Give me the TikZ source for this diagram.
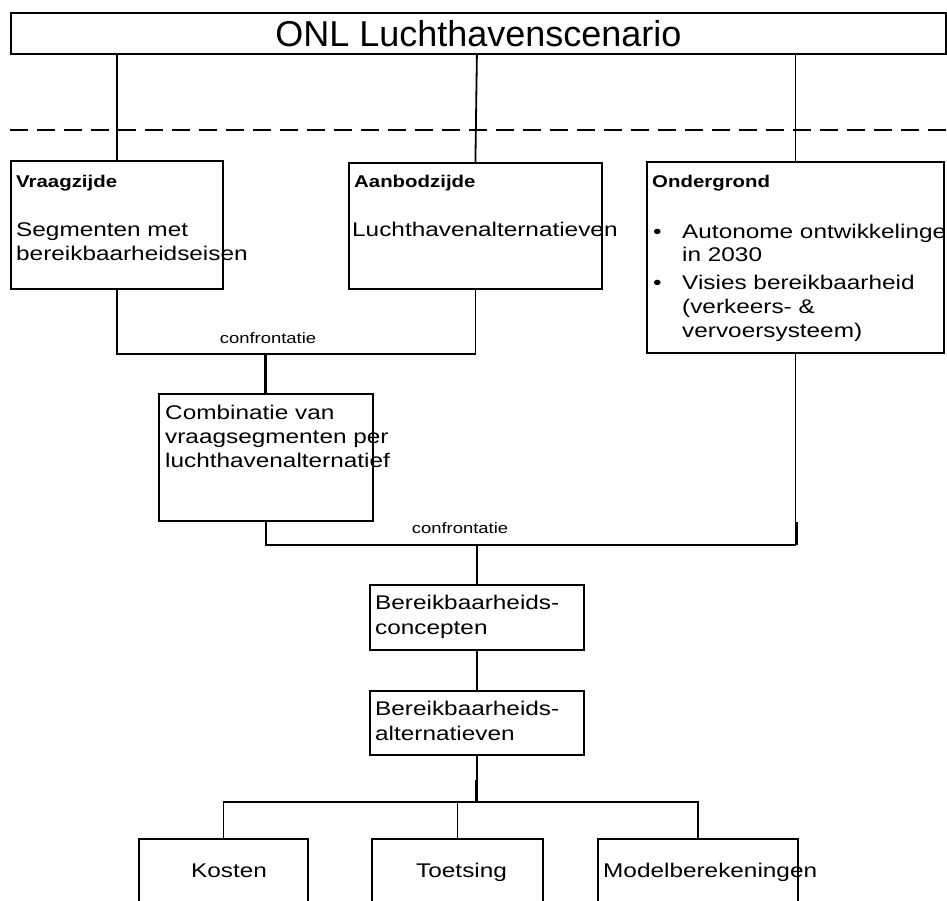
\documentclass[tikz,border=0pt]{standalone}
\usepackage{fontspec}
\setmainfont{Liberation Sans}
\newfontfamily\bodyfont[FakeStretch=1.23]{Liberation Sans}
\newfontfamily\headfont[FakeStretch=1.2]{Liberation Sans}
\usetikzlibrary{calc}
\tikzset{
  box/.style={draw, line width=1.8pt, rectangle, inner sep=0pt, anchor=north west},
  link/.style={line width=1.8pt},
  thicklink/.style={line width=3pt},
  body/.style={anchor=base west, inner sep=0pt, align=left, font=\bodyfont\fontsize{19.8}{24}\selectfont},
  head/.style={anchor=base west, inner sep=0pt, font=\headfont\bfseries\fontsize{17}{20}\selectfont},
  lbl/.style={anchor=base, inner sep=0pt, font=\bodyfont\fontsize{15}{18}\selectfont},
}
\begin{document}
\begin{tikzpicture}[x=1pt,y=-1pt]
\useasboundingbox (0,0) rectangle (947,900);
\clip (0,0) rectangle (947,900);

% boxes
\node[box, minimum width=935pt, minimum height=41pt, font=\fontsize{36}{40}\selectfont] (title) at (10,12) {ONL Luchthavenscenario};
\node[box, minimum width=212pt, minimum height=128pt] (vraag) at (10,160) {};
\node[box, minimum width=253pt, minimum height=126pt] (aanbod) at (348,162) {};
\node[box, minimum width=297pt, minimum height=191pt] (onder) at (646,161) {};
\node[box, minimum width=214pt, minimum height=127pt] (comb) at (158,393) {};
\node[box, minimum width=214pt, minimum height=65pt] (concept) at (369,584) {};
\node[box, minimum width=214pt, minimum height=64pt] (altern) at (369,690) {};
\node[box, minimum width=169pt, minimum height=80pt] (kosten) at (138,838) {};
\node[box, minimum width=171pt, minimum height=80pt] (toets) at (371,838) {};
\node[box, minimum width=200pt, minimum height=80pt] (model) at (597,838) {};

% texts (multi-line nodes: base = baseline of the last line)
\node[head] (vraagh) at (16,187) {Vraagzijde};
\node[body] (vraagt) at (16,260) {Segmenten met\\bereikbaarheidseisen};
\node[head] (aanbodh) at (354,187) {Aanbodzijde};
\node[body] (aanbodt) at (352,236) {Luchthavenalternatieven};
\node[head] (onderh) at (652,187) {Ondergrond};
\node[body] (bul1) at (653,238) {\textbullet};
\node[body] (item1) at (682,261) {Autonome ontwikkelinge\\[-1pt]in 2030};
\node[body] (bul2) at (653,289) {\textbullet};
\node[body] (item2) at (682,337) {Visies bereikbaarheid\\(verkeers- \&\\vervoersysteem)};
\node[body] (combt) at (165,467) {Combinatie van\\vraagsegmenten per\\luchthavenalternatief};
\node[body] (conceptt) at (375,634) {Bereikbaarheids-\\[1pt]concepten};
\node[body] (alternt) at (375,740) {Bereikbaarheids-\\[1pt]alternatieven};
\node[body] (kostent) at (191,877) {Kosten};
\node[body] (toetst) at (416,877) {Toetsing};
\node[body] (modelt) at (603,877) {Modelberekeningen};

% dashed separator
\coordinate (dl) at (10,130);
\coordinate (dr) at (947,130);
\draw[dash pattern=on 18pt off 9pt, line width=2pt] (dl) -- (dr);

% connectors from the title
\draw[link] (vraag.north) -- (vraag.north |- title.south);
\draw[link] (aanbod.north) -- ($(aanbod.north |- title.south)+(1.5,0)$);
\draw[link] (onder.north) -- (onder.north |- title.south);

% first confrontation
\draw[link] (vraag.south) -- ++(0,64) coordinate (b1) -| (aanbod.south);
\node[lbl] (conf1) at (268,343) {confrontatie};
\draw[thicklink] (b1 -| comb.north) -- (comb.north);

% second confrontation
\draw[link] (comb.south) -- ++(0,23) coordinate (b2) -| (onder.south);
\draw[thicklink] ($(b2 -| onder.south)+(1.5,0)$) -- ++(0,-23);
\node[lbl] (conf2) at (460,533) {confrontatie};
\draw[link] (b2 -| concept.north) -- (concept.north);

% lower chain
\draw[link] (concept.south) -- (altern.north);
\draw[link] (altern.south) -- ++(0,46) coordinate (b3);
\draw[thicklink] (b3) -- ++(0,-22);
\draw[link] (kosten.north) -- (kosten.north |- b3) -- (model.north |- b3) -- (model.north);
\draw[link] (toets.north) -- (toets.north |- b3);
\end{tikzpicture}
\end{document}
